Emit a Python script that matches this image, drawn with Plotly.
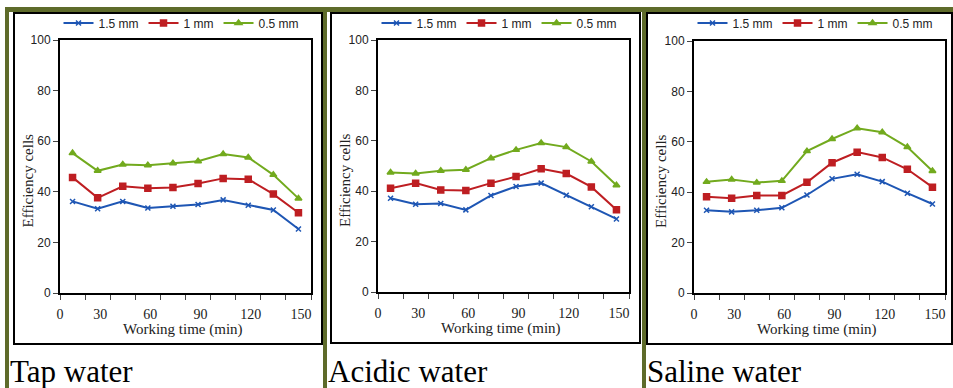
import plotly.graph_objects as go

W, H = 953, 388

# ---------------- data ----------------
time_min = [7.5, 22.5, 37.5, 52.5, 67.5, 82.5, 97.5, 112.5, 127.5, 142.5]
series_names = ["1.5 mm", "1 mm", "0.5 mm"]
panel_titles = ["Tap water", "Acidic water", "Saline water"]
x_title = "Working time (min)"
y_title = "Efficiency cells"

tap_15 = [36.2, 33.3, 36.2, 33.6, 34.3, 35.0, 36.8, 34.7, 32.8, 25.3]
tap_10 = [45.7, 37.6, 42.2, 41.4, 41.7, 43.3, 45.3, 45.0, 39.1, 31.7]
tap_05 = [55.3, 48.3, 50.8, 50.5, 51.3, 52.1, 54.9, 53.6, 46.7, 37.4]

acid_15 = [37.2, 34.8, 35.1, 32.6, 38.3, 41.9, 43.2, 38.4, 33.8, 29.0]
acid_10 = [41.2, 43.2, 40.5, 40.3, 43.2, 45.8, 48.9, 47.0, 41.7, 32.6]
acid_05 = [47.4, 47.0, 48.1, 48.5, 53.1, 56.4, 59.1, 57.5, 51.8, 42.4]

sal_15 = [32.8, 32.2, 32.8, 33.8, 38.9, 45.3, 47.1, 44.2, 39.6, 35.3]
sal_10 = [38.2, 37.6, 38.7, 38.7, 43.9, 51.7, 55.9, 53.8, 49.1, 42.0]
sal_05 = [44.1, 45.0, 43.8, 44.5, 56.3, 61.1, 65.4, 63.8, 57.9, 48.4]

# x tick labels sit slightly left of their tick marks in the original
x_label_pos = [0, 24, 54, 84, 114, 144]
x_tick_text = ["0", "30", "60", "90", "120", "150"]
y_tickvals = [0, 20, 40, 60, 80, 100]

panels = [
    [tap_15, tap_10, tap_05],
    [acid_15, acid_10, acid_05],
    [sal_15, sal_10, sal_05],
]

# ---------------- styles ----------------
colors = ["#1E56B4", "#BE1E22", "#72AA1E"]
symbols = ["x-thin-open", "square", "triangle-up"]
msizes = [5, 6, 6]
OLIVE = "#5E6B2A"


def px(x):
    return x / W


def py(y):
    return 1 - y / H


# plot-area pixel boxes (left, right, top, bottom)
plot_boxes = [(60, 311, 40, 293), (378, 629, 40, 292), (694, 945, 41, 293)]
# panel border boxes
panel_boxes = [(14, 322, 13, 344), (331, 640, 13, 343), (647, 952, 13, 344)]
olive_vbands = [(5, 9), (323, 327), (642, 646)]

fig = go.Figure()

for i, series in enumerate(panels):
    ax = "" if i == 0 else str(i + 1)
    leg = "legend" if i == 0 else f"legend{i + 1}"
    for j, vals in enumerate(series):
        fig.add_trace(go.Scatter(
            x=time_min, y=vals, name=series_names[j],
            mode="lines+markers",
            line=dict(color=colors[j], width=2),
            marker=dict(symbol=symbols[j], size=msizes[j], color=colors[j],
                        line=dict(color=colors[j], width=1.5)),
            xaxis="x" + ax, yaxis="y" + ax, legend=leg,
        ))

layout = dict(
    width=W, height=H,
    margin=dict(l=0, r=0, t=0, b=0),
    paper_bgcolor="white", plot_bgcolor="white",
    showlegend=True,
)

shapes = []
annotations = []

for i in range(3):
    l, r, t, b = plot_boxes[i]
    ax = "" if i == 0 else str(i + 1)
    layout["xaxis" + ax] = dict(
        domain=[px(l), px(r)], range=[0, 150], anchor="y" + ax,
        tickvals=x_label_pos, ticktext=x_tick_text, ticks="outside",
        ticklen=7, tickcolor="rgba(0,0,0,0)",
        minor=dict(dtick=15, tick0=0, ticks="outside", ticklen=5,
                   tickwidth=1, tickcolor="#444", showgrid=False),
        showline=True, mirror=True, linecolor="black", linewidth=2,
        showgrid=False, zeroline=False, automargin=False,
        ticklabeloverflow="allow",
        tickfont=dict(family="Liberation Serif", size=14, color="#222"),
    )
    layout["yaxis" + ax] = dict(
        domain=[py(b), py(t)], range=[0, 100], anchor="x" + ax,
        tickvals=y_tickvals, ticks="outside", ticklen=5, tickwidth=1,
        tickcolor="#444",
        showline=True, mirror=True, linecolor="black", linewidth=2,
        showgrid=False, zeroline=False, automargin=False,
        tickfont=dict(family="Liberation Sans", size=12, color="#222"),
    )
    leg = "legend" if i == 0 else f"legend{i + 1}"
    layout[leg] = dict(
        orientation="h", x=px((l + r) / 2 - 4), xanchor="center",
        y=py(23), yanchor="middle", bgcolor="rgba(0,0,0,0)",
        font=dict(family="Liberation Sans", size=12, color="#222"),
        itemwidth=30, tracegroupgap=0,
    )

    # axis titles
    annotations.append(dict(
        text=x_title, xref="paper", yref="paper",
        x=px((l + r) / 2 - 3), y=py(b + 36), xanchor="center",
        yanchor="middle", showarrow=False,
        font=dict(family="Liberation Serif", size=15, color="#222"),
    ))
    annotations.append(dict(
        text=y_title, xref="paper", yref="paper",
        x=px(l - 33), y=py((t + b) / 2 + 14), xanchor="center",
        yanchor="middle", textangle=-90, showarrow=False,
        font=dict(family="Liberation Serif", size=15, color="#222"),
    ))

    pl, pr, pt, pb = panel_boxes[i]
    shapes.append(dict(type="rect", xref="paper", yref="paper",
                       x0=px(pl), x1=px(pr), y0=py(pb), y1=py(pt),
                       line=dict(color="black", width=2), layer="below"))
    vl, vr = olive_vbands[i]
    shapes.append(dict(type="rect", xref="paper", yref="paper",
                       x0=px(vl), x1=px(vr), y0=py(H), y1=py(7),
                       line=dict(width=0), fillcolor=OLIVE, layer="below"))
    annotations.append(dict(
        text=panel_titles[i], xref="paper", yref="paper",
        x=px(vr - 1), y=py(371), xanchor="left", yanchor="middle",
        showarrow=False,
        font=dict(family="Liberation Serif", size=31, color="black"),
    ))

# top olive band
shapes.append(dict(type="rect", xref="paper", yref="paper",
                   x0=px(5), x1=px(W), y0=py(12), y1=py(7),
                   line=dict(width=0), fillcolor=OLIVE, layer="below"))

layout["shapes"] = shapes
layout["annotations"] = annotations
fig.update_layout(**layout)

fig.write_html("out.html",
               post_script="document.body.style.margin='0px';"
                           "document.body.style.overflow='hidden';")
